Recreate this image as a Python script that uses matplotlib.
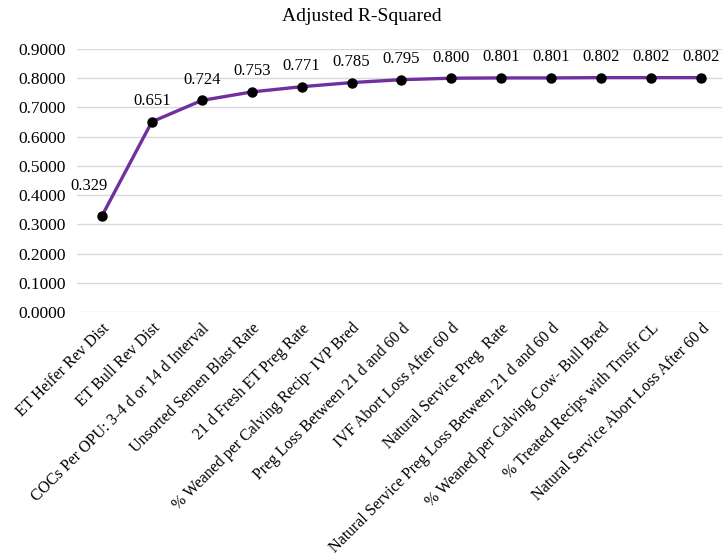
#! /usr/bin/env python3

'''
Line chart of adjusted R-squared as each variable is added to the model.
'''

import matplotlib.pyplot as plt

plt.rcParams['font.family'] = ['Liberation Serif', 'DejaVu Serif']

variables = [
    'ET Heifer Rev Dist',
    'ET Bull Rev Dist',
    'COCs Per OPU: 3-4 d or 14 d Interval',
    'Unsorted Semen Blast Rate',
    '21 d Fresh ET Preg Rate',
    '% Weaned per Calving Recip- IVP Bred',
    'Preg Loss Between 21 d and 60 d',
    'IVF Abort Loss After 60 d',
    'Natural Service Preg  Rate',
    'Natural Service Preg Loss Between 21 d and 60 d',
    '% Weaned per Calving Cow- Bull Bred',
    '% Treated Recips with Trnsfr CL',
    'Natural Service Abort Loss After 60 d',
]
adj_r2 = [0.329, 0.651, 0.724, 0.753, 0.771, 0.785, 0.795,
          0.800, 0.801, 0.801, 0.802, 0.802, 0.802]
y_ticks = [0.0, 0.1, 0.2, 0.3, 0.4, 0.5, 0.6, 0.7, 0.8, 0.9]

fig = plt.figure(figsize=(7.23, 5.56), dpi=100)
ax = fig.add_axes([0.1065, 0.4388, 0.892, 0.4731])

x = list(range(len(variables)))
ax.plot(x, adj_r2, color='#7030A0', linewidth=2.4, zorder=3)
ax.plot(x, adj_r2, 'o', color='black', markersize=6.5, zorder=4)

for xi, yi in zip(x, adj_r2):
    # the first label sits up and to the left, clear of the steep line
    offset = (-9, 16) if xi == 0 else (0, 9)
    ax.annotate(f'{yi:.3f}', (xi, yi), xytext=offset,
                textcoords='offset points', ha='center', va='bottom',
                fontsize=12)

ax.set_xlim(-0.5, 12.42)
ax.set_ylim(0, 0.9)
ax.set_yticks(y_ticks)
ax.set_yticklabels([f'{v:.4f}' for v in y_ticks], fontsize=12.5)
ax.set_xticks(x)
ax.set_xticklabels(variables, rotation=45, ha='right',
                   rotation_mode='anchor', fontsize=11.5)
ax.tick_params(length=0, pad=8)
ax.tick_params(axis='x', pad=6)
ax.grid(axis='y', color='#D9D9D9', linewidth=1)
ax.set_axisbelow(True)
for spine in ax.spines.values():
    spine.set_visible(False)

fig.suptitle('Adjusted R-Squared', y=0.985, fontsize=14)

fig.savefig('out.png', dpi=100)
